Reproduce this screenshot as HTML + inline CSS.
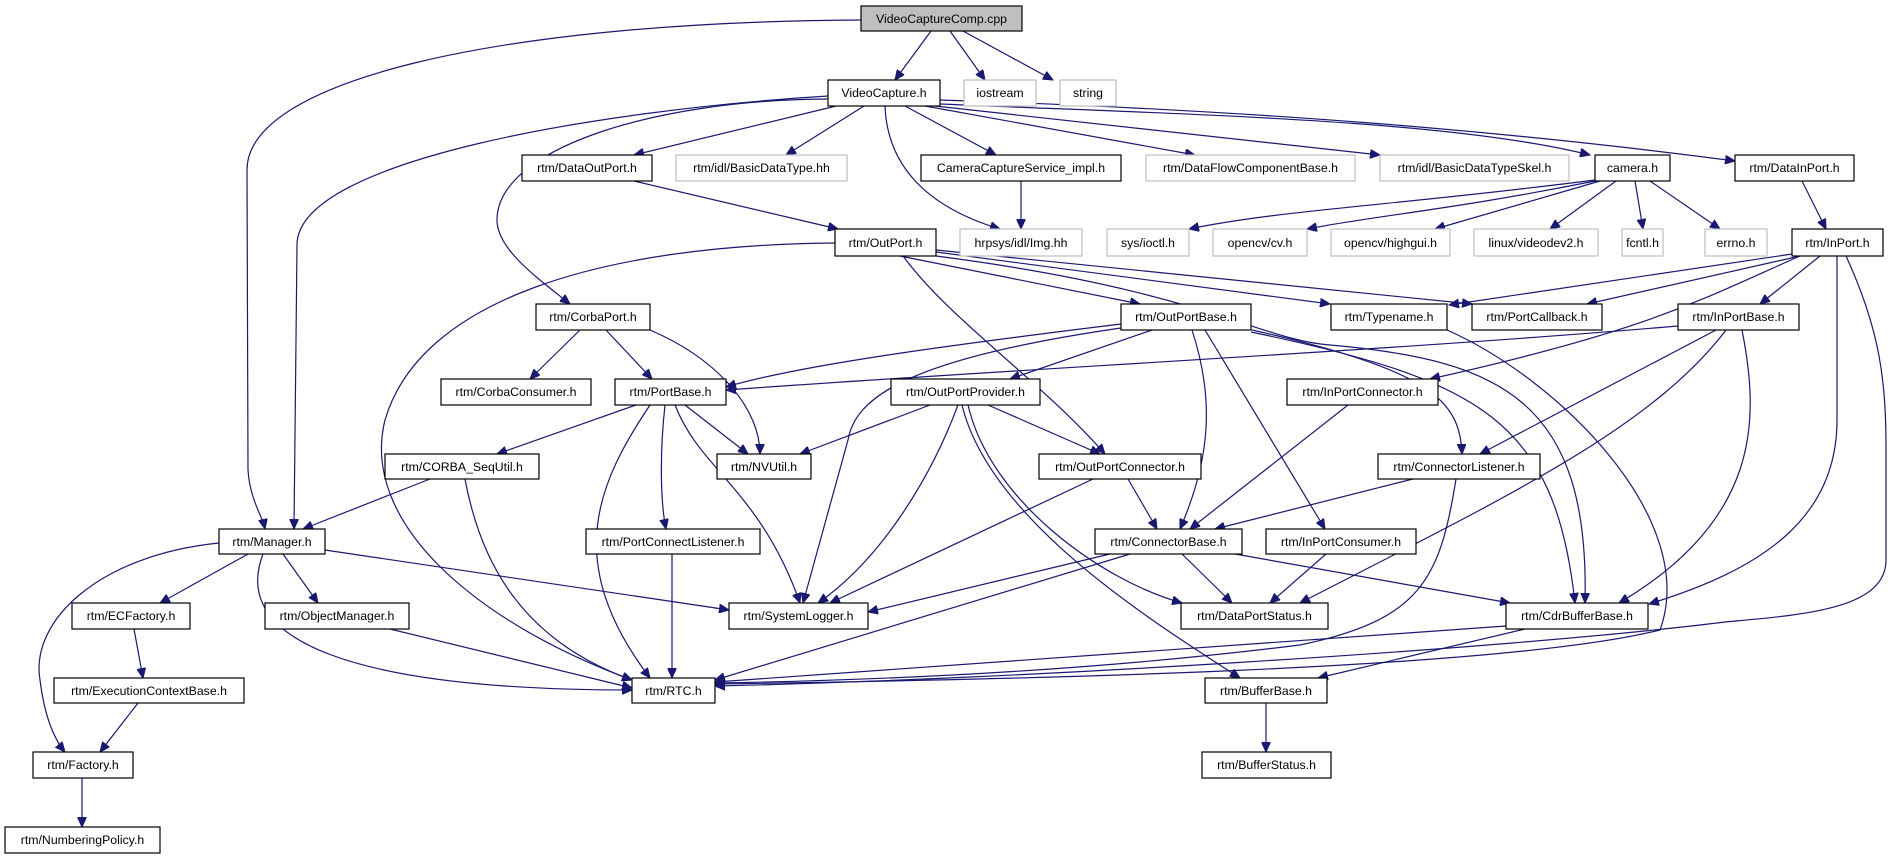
<!DOCTYPE html>
<html><head><meta charset="utf-8"><style>
html,body{margin:0;padding:0;background:#fff;}
svg{display:block;}
text{font-family:"Liberation Sans",Helvetica,Arial,sans-serif;font-size:12.3px;fill:#000;text-anchor:middle;}
.n{fill:#fff;stroke:#000;stroke-width:1.2;}
.g{fill:#fff;stroke:#bfbfbf;stroke-width:1.2;}
.c{fill:#bfbfbf;stroke:#000;stroke-width:1.2;}
path.e{fill:none;stroke:#191970;stroke-width:1.2;marker-end:url(#a);}
</style></head><body>
<svg width="1893" height="859" viewBox="0 0 1893 859" xmlns="http://www.w3.org/2000/svg">
<defs><marker id="a" markerWidth="11" markerHeight="9" refX="10" refY="4.5" orient="auto" markerUnits="userSpaceOnUse"><path d="M0,0 L10,4.5 L0,9 z" fill="#191970" stroke="#191970"/></marker></defs>
<g>
<path class="e" d="M861,20 C500,22 247,80 247,170 L248,470 C250,500 262,515 265,529"/>
<path class="e" d="M931,31 L895,80"/>
<path class="e" d="M950,31 L985,80"/>
<path class="e" d="M963,31 L1053,80"/>
<path class="e" d="M828,96 C600,110 297,160 297,245 L294,529"/>
<path class="e" d="M828,99 C650,100 497,150 497,220 C497,250 540,280 570,304"/>
<path class="e" d="M836,106 L634,155"/>
<path class="e" d="M864,106 L786,155"/>
<path class="e" d="M885,106 C887,160 920,205 1000,229"/>
<path class="e" d="M905,106 L996,155"/>
<path class="e" d="M925,106 L1195,155"/>
<path class="e" d="M935,106 L1380,155"/>
<path class="e" d="M940,104 C1200,115 1450,120 1590,155"/>
<path class="e" d="M940,100 C1250,110 1500,130 1735,161"/>
<path class="e" d="M634,181 L838,229"/>
<path class="e" d="M1021,181 L1021,229"/>
<path class="e" d="M1595,180 C1400,205 1280,210 1189,229"/>
<path class="e" d="M1595,181 C1450,210 1380,215 1307,229"/>
<path class="e" d="M1600,181 L1435,229"/>
<path class="e" d="M1616,181 L1550,229"/>
<path class="e" d="M1635,181 L1643,229"/>
<path class="e" d="M1650,181 L1720,229"/>
<path class="e" d="M1802,181 L1826,229"/>
<path class="e" d="M835,243 C600,245 420,300 385,420 C360,520 470,620 632,680"/>
<path class="e" d="M900,256 L1140,304"/>
<path class="e" d="M903,256 C950,320 1040,380 1105,454"/>
<path class="e" d="M936,252 L1330,304"/>
<path class="e" d="M936,250 L1472,304"/>
<path class="e" d="M936,256 C1200,290 1260,340 1330,345 C1500,360 1590,400 1585,603"/>
<path class="e" d="M580,330 L530,379"/>
<path class="e" d="M606,330 L652,379"/>
<path class="e" d="M650,330 C720,360 760,410 760,454"/>
<path class="e" d="M1121,324 C950,345 800,365 726,387"/>
<path class="e" d="M1121,328 C900,360 855,400 848,440 L803,603"/>
<path class="e" d="M1152,330 L1010,379"/>
<path class="e" d="M1192,330 C1215,400 1210,460 1180,529"/>
<path class="e" d="M1205,330 L1325,529"/>
<path class="e" d="M1252,330 C1430,370 1460,400 1462,454"/>
<path class="e" d="M1251,332 C1480,380 1555,420 1575,603"/>
<path class="e" d="M1447,330 C1560,380 1700,520 1660,630 C1500,670 1000,680 715,684"/>
<path class="e" d="M1792,254 L1449,305"/>
<path class="e" d="M1800,256 L1587,304"/>
<path class="e" d="M1820,256 L1760,304"/>
<path class="e" d="M1800,256 C1700,300 1650,330 1430,379"/>
<path class="e" d="M1837,256 L1837,420 C1837,520 1760,570 1649,604"/>
<path class="e" d="M1846,256 C1880,330 1886,380 1886,450 L1886,560 C1886,610 1800,615 1725,622 C1500,650 1000,680 715,686"/>
<path class="e" d="M1678,326 C1400,350 1000,370 726,390"/>
<path class="e" d="M1716,330 L1480,454"/>
<path class="e" d="M1726,330 C1650,430 1500,500 1300,603"/>
<path class="e" d="M1742,330 C1760,420 1760,520 1619,603"/>
<path class="e" d="M636,405 L497,454"/>
<path class="e" d="M685,405 L748,454"/>
<path class="e" d="M650,405 C600,480 560,560 650,678"/>
<path class="e" d="M665,405 C660,450 660,500 666,529"/>
<path class="e" d="M675,405 C700,470 760,490 800,603"/>
<path class="e" d="M930,405 L800,454"/>
<path class="e" d="M988,405 L1100,454"/>
<path class="e" d="M958,405 C930,480 880,560 818,603"/>
<path class="e" d="M968,405 C990,500 1100,580 1182,603"/>
<path class="e" d="M962,405 C990,520 1150,620 1240,678"/>
<path class="e" d="M1348,405 L1190,529"/>
<path class="e" d="M1093,479 L830,603"/>
<path class="e" d="M1128,479 L1157,529"/>
<path class="e" d="M1413,479 L1215,529"/>
<path class="e" d="M1456,479 C1440,580 1420,620 1300,645 C1100,670 900,680 715,683"/>
<path class="e" d="M430,479 L303,529"/>
<path class="e" d="M465,479 C480,560 520,640 632,680"/>
<path class="e" d="M248,554 L160,603"/>
<path class="e" d="M283,554 L318,603"/>
<path class="e" d="M325,550 L729,610"/>
<path class="e" d="M263,554 C230,640 350,690 632,690"/>
<path class="e" d="M219,543 C100,555 30,620 40,680 C45,720 55,740 65,752"/>
<path class="e" d="M134,629 L143,678"/>
<path class="e" d="M138,703 L100,752"/>
<path class="e" d="M82,778 L82,827"/>
<path class="e" d="M390,629 L632,688"/>
<path class="e" d="M672,554 L672,678"/>
<path class="e" d="M1110,554 L868,612"/>
<path class="e" d="M1130,554 L715,680"/>
<path class="e" d="M1182,554 L1232,603"/>
<path class="e" d="M1235,554 L1510,603"/>
<path class="e" d="M1326,554 L1270,603"/>
<path class="e" d="M1506,626 L715,682"/>
<path class="e" d="M1525,629 L1318,678"/>
<path class="e" d="M1266,703 L1266,752"/>
</g>
<g>
<rect class="c" x="861" y="6" width="161" height="25"/><text x="941.5" y="23">VideoCaptureComp.cpp</text>
<rect class="n" x="828" y="80" width="112" height="26"/><text x="884" y="97">VideoCapture.h</text>
<rect class="g" x="964" y="80" width="72" height="26"/><text x="1000" y="97">iostream</text>
<rect class="g" x="1060" y="80" width="56" height="26"/><text x="1088" y="97">string</text>

<rect class="n" x="522" y="155" width="130" height="26"/><text x="587" y="172">rtm/DataOutPort.h</text>
<rect class="g" x="676" y="155" width="171" height="26"/><text x="761.5" y="172">rtm/idl/BasicDataType.hh</text>
<rect class="n" x="921" y="155" width="200" height="26"/><text x="1021" y="172">CameraCaptureService_impl.h</text>
<rect class="g" x="1146" y="155" width="209" height="26"/><text x="1250.5" y="172">rtm/DataFlowComponentBase.h</text>
<rect class="g" x="1380" y="155" width="189" height="26"/><text x="1474.5" y="172">rtm/idl/BasicDataTypeSkel.h</text>
<rect class="n" x="1595" y="155" width="75" height="26"/><text x="1632.5" y="172">camera.h</text>
<rect class="n" x="1735" y="155" width="119" height="26"/><text x="1794.5" y="172">rtm/DataInPort.h</text>

<rect class="n" x="835" y="229" width="101" height="27"/><text x="885.5" y="247">rtm/OutPort.h</text>
<rect class="g" x="960" y="229" width="122" height="27"/><text x="1021" y="247">hrpsys/idl/Img.hh</text>
<rect class="g" x="1107" y="229" width="82" height="27"/><text x="1148" y="247">sys/ioctl.h</text>
<rect class="g" x="1213" y="229" width="94" height="27"/><text x="1260" y="247">opencv/cv.h</text>
<rect class="g" x="1331" y="229" width="119" height="27"/><text x="1390.5" y="247">opencv/highgui.h</text>
<rect class="g" x="1474" y="229" width="124" height="27"/><text x="1536" y="247">linux/videodev2.h</text>
<rect class="g" x="1622" y="229" width="41" height="27"/><text x="1642.5" y="247">fcntl.h</text>
<rect class="g" x="1705" y="229" width="62" height="27"/><text x="1736" y="247">errno.h</text>
<rect class="n" x="1792" y="229" width="91" height="27"/><text x="1837.5" y="247">rtm/InPort.h</text>

<rect class="n" x="536" y="304" width="114" height="26"/><text x="593" y="321">rtm/CorbaPort.h</text>
<rect class="n" x="1121" y="304" width="130" height="26"/><text x="1186" y="321">rtm/OutPortBase.h</text>
<rect class="n" x="1331" y="304" width="116" height="26"/><text x="1389" y="321">rtm/Typename.h</text>
<rect class="n" x="1472" y="304" width="130" height="26"/><text x="1537" y="321">rtm/PortCallback.h</text>
<rect class="n" x="1678" y="304" width="121" height="26"/><text x="1738.5" y="321">rtm/InPortBase.h</text>

<rect class="n" x="441" y="379" width="150" height="26"/><text x="516" y="396">rtm/CorbaConsumer.h</text>
<rect class="n" x="615" y="379" width="111" height="26"/><text x="670.5" y="396">rtm/PortBase.h</text>
<rect class="n" x="891" y="379" width="149" height="26"/><text x="965.5" y="396">rtm/OutPortProvider.h</text>
<rect class="n" x="1287" y="379" width="151" height="26"/><text x="1362.5" y="396">rtm/InPortConnector.h</text>

<rect class="n" x="385" y="454" width="154" height="25"/><text x="462" y="471">rtm/CORBA_SeqUtil.h</text>
<rect class="n" x="717" y="454" width="94" height="25"/><text x="764" y="471">rtm/NVUtil.h</text>
<rect class="n" x="1039" y="454" width="162" height="25"/><text x="1120" y="471">rtm/OutPortConnector.h</text>
<rect class="n" x="1378" y="454" width="162" height="25"/><text x="1459" y="471">rtm/ConnectorListener.h</text>

<rect class="n" x="219" y="529" width="106" height="25"/><text x="272" y="546">rtm/Manager.h</text>
<rect class="n" x="586" y="529" width="174" height="25"/><text x="673" y="546">rtm/PortConnectListener.h</text>
<rect class="n" x="1095" y="529" width="147" height="25"/><text x="1168.5" y="546">rtm/ConnectorBase.h</text>
<rect class="n" x="1266" y="529" width="150" height="25"/><text x="1341" y="546">rtm/InPortConsumer.h</text>

<rect class="n" x="72" y="603" width="118" height="26"/><text x="131" y="620">rtm/ECFactory.h</text>
<rect class="n" x="265" y="603" width="144" height="26"/><text x="337" y="620">rtm/ObjectManager.h</text>
<rect class="n" x="729" y="603" width="139" height="26"/><text x="798.5" y="620">rtm/SystemLogger.h</text>
<rect class="n" x="1181" y="603" width="147" height="26"/><text x="1254.5" y="620">rtm/DataPortStatus.h</text>
<rect class="n" x="1506" y="603" width="142" height="26"/><text x="1577" y="620">rtm/CdrBufferBase.h</text>

<rect class="n" x="54" y="678" width="190" height="25"/><text x="149" y="695">rtm/ExecutionContextBase.h</text>
<rect class="n" x="632" y="678" width="83" height="25"/><text x="673.5" y="695">rtm/RTC.h</text>
<rect class="n" x="1205" y="678" width="122" height="25"/><text x="1266" y="695">rtm/BufferBase.h</text>

<rect class="n" x="33" y="752" width="100" height="26"/><text x="83" y="769">rtm/Factory.h</text>
<rect class="n" x="1202" y="752" width="129" height="26"/><text x="1266.5" y="769">rtm/BufferStatus.h</text>

<rect class="n" x="5" y="827" width="155" height="26"/><text x="82.5" y="844">rtm/NumberingPolicy.h</text>
</g>
</svg>
</body></html>
